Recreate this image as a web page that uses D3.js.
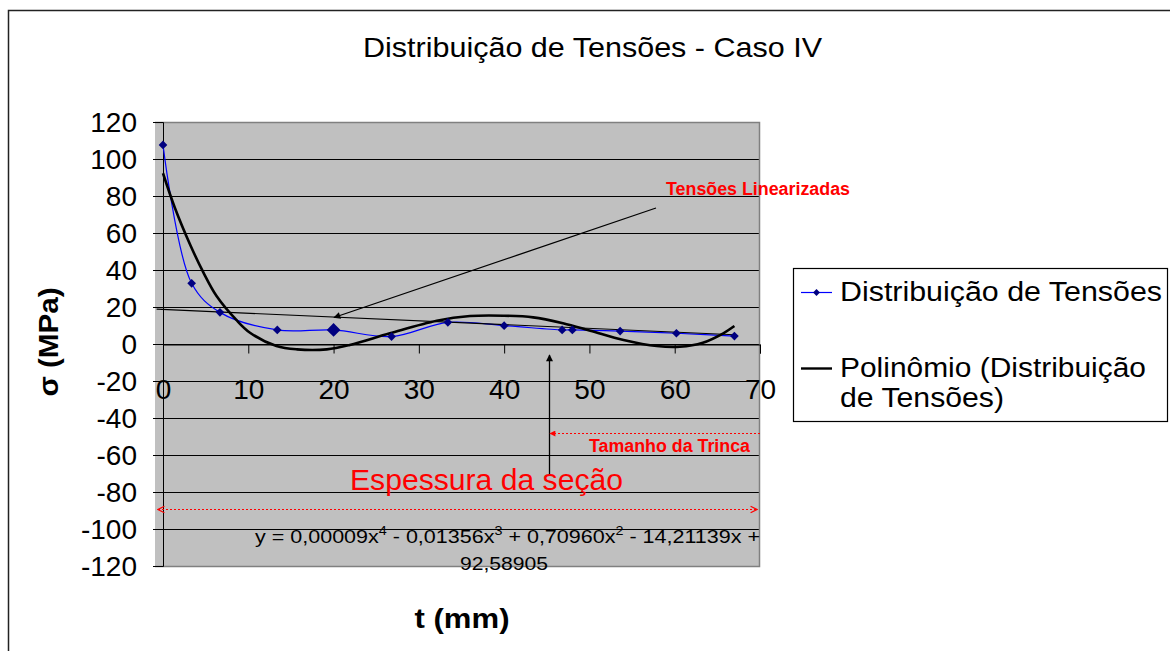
<!DOCTYPE html>
<html>
<head>
<meta charset="utf-8">
<script src="https://cdn.jsdelivr.net/npm/d3@7"></script>
<style>
  html, body { margin: 0; padding: 0; background: #fff; }
  svg { display: block; }
  text { font-family: "Liberation Sans", Arial, sans-serif; }
</style>
</head>
<body>
<svg id="chart" width="1170" height="651"></svg>
<script>
// ---------------- data ----------------
const titleText = "Distribuição de Tensões - Caso IV";
const xTicks = [0, 10, 20, 30, 40, 50, 60, 70];
const yTicks = [-120, -100, -80, -60, -40, -20, 0, 20, 40, 60, 80, 100, 120];

// Distribuição de Tensões (t in mm, sigma in MPa)
const tData     = [0, 3.36, 6.68, 13.4, 20.0, 26.8, 33.4, 40.0, 46.8, 48.0, 53.6, 60.2, 67.0];
const sigmaData = [107.6, 32.8, 17.1, 7.6, 7.6, 4.0, 11.7, 9.9, 7.6, 7.6, 7.0, 5.8, 4.3];

// Polinômio (Distribuição de Tensões) – trend curve
const trendT     = [0, 1.4, 3.2, 4.7, 6.3, 8.6, 10.2, 13.3, 15.7, 19.2, 21.9, 26.6, 32.1, 36, 39.9, 43.4, 46.9, 50.1, 54, 57.9, 60.6, 63.3, 65.7, 67];
const trendSigma = [92.3, 73.5, 53.5, 39.0, 25.8, 13, 6.1, -1.1, -2.9, -2.9, -0.5, 5.8, 12.6, 15.1, 15.3, 14.4, 11.2, 7.2, 2.2, -1.1, -1.5, 0.7, 5.8, 9.7];

// Tensões Linearizadas (straight line)
const linearT     = [-0.75, 67];
const linearSigma = [18.8, 5.0];

const legendLabels = ["Distribuição de Tensões", ["Polinômio (Distribuição", "de Tensões)"]];
const equationLines = ["y = 0,00009x^4 - 0,01356x^3 + 0,70960x^2 - 14,21139x +", "92,58905"];

// ---------------- drawing ----------------
const svg = d3.select("#chart");
const font = '"Liberation Sans", Arial, sans-serif';

// outer chart border (runs off right and bottom)
svg.append("rect").attr("x", 8.5).attr("y", 10.5).attr("width", 1200).attr("height", 700)
  .attr("fill", "#fff").attr("stroke", "#222").attr("stroke-width", 1.5);

const x = d3.scaleLinear().domain([0, 70]).range([163, 760]);
const y = d3.scaleLinear().domain([-120, 120]).range([566, 122]);
const plotLeft = 155, plotRight = 760;

// plot area
svg.append("rect").attr("x", plotLeft).attr("y", y(120)).attr("width", plotRight - plotLeft)
  .attr("height", y(-120) - y(120)).attr("fill", "#c0c0c0");

// gridlines
svg.append("g").selectAll("line").data(yTicks.filter(v => v !== 120 && v !== -120)).join("line")
  .attr("x1", plotLeft).attr("x2", plotRight)
  .attr("y1", d => Math.round(y(d)) + 0.5).attr("y2", d => Math.round(y(d)) + 0.5)
  .attr("stroke", "#000").attr("stroke-width", 1);

// plot border (top, right, bottom)
svg.append("path")
  .attr("d", `M${plotLeft},${y(120) + 0.5} H${plotRight - 0.5} V${y(-120) + 0.5} H${plotLeft}`)
  .attr("fill", "none").attr("stroke", "#808080").attr("stroke-width", 1.5);

// y axis (crosses at t = 0)
const yAxis = d3.axisLeft(y).tickValues(yTicks).tickSize(10).tickFormat(d => String(d));
const gy = svg.append("g").attr("transform", `translate(${x(0)},0)`).call(yAxis);
gy.select(".domain").attr("stroke", "#000");
gy.selectAll(".tick line").attr("stroke", "#000");
gy.selectAll(".tick text").attr("font-family", font).attr("font-size", 28).attr("fill", "#000")
  .attr("x", -26).attr("dy", "0.35em");

// x axis (at sigma = 0)
const xAxis = d3.axisBottom(x).tickValues(xTicks).tickSize(9).tickFormat(d => String(d));
const gx = svg.append("g").attr("transform", `translate(0,${Math.round(y(0)) + 0.5})`).call(xAxis);
gx.select(".domain").attr("stroke", "#000");
gx.selectAll(".tick line").attr("stroke", "#000");
gx.selectAll(".tick text").attr("font-family", font).attr("font-size", 28).attr("fill", "#000")
  .attr("y", 54).attr("dy", 0);

// blue smoothed series
const pts = tData.map((t, i) => [t, sigmaData[i]]);
const smooth = d3.line().x(d => x(d[0])).y(d => y(d[1])).curve(d3.curveCatmullRom.alpha(0.5));
svg.append("path").attr("d", smooth(pts)).attr("fill", "none").attr("stroke", "#0000ff").attr("stroke-width", 1.2);

// linear line
const lin = linearT.map((t, i) => [t, linearSigma[i]]);
svg.append("path").attr("d", d3.line().x(d => x(d[0])).y(d => y(d[1]))(lin))
  .attr("fill", "none").attr("stroke", "#000").attr("stroke-width", 1.2);

// trend polynomial curve
const trend = trendT.map((t, i) => [t, trendSigma[i]]);
svg.append("path").attr("d", smooth(trend)).attr("fill", "none").attr("stroke", "#000").attr("stroke-width", 2.6);

// markers
const diamond = d3.symbol().type(d3.symbolDiamond2);
svg.append("g").selectAll("path").data(pts).join("path")
  .attr("transform", d => `translate(${x(d[0])},${y(d[1])})`)
  .attr("d", (d, i) => diamond.size(i === 4 ? 120 : 48)())
  .attr("fill", "#000080");

// arrow markers
const defs = svg.append("defs");
defs.append("marker").attr("id", "arrBlack").attr("viewBox", "0 0 10 10").attr("refX", 9).attr("refY", 5)
  .attr("markerWidth", 9).attr("markerHeight", 7).attr("markerUnits", "userSpaceOnUse").attr("orient", "auto")
  .append("path").attr("d", "M0,0 L10,5 L0,10 Z").attr("fill", "#000");
defs.append("marker").attr("id", "arrRed").attr("viewBox", "0 0 10 10").attr("refX", 9).attr("refY", 5)
  .attr("markerWidth", 7).attr("markerHeight", 6).attr("markerUnits", "userSpaceOnUse").attr("orient", "auto")
  .append("path").attr("d", "M0,0 L10,5 L0,10 Z").attr("fill", "#ff0000");
defs.append("marker").attr("id", "chevRed").attr("viewBox", "0 0 10 10").attr("refX", 9).attr("refY", 5)
  .attr("markerWidth", 8).attr("markerHeight", 10).attr("markerUnits", "userSpaceOnUse").attr("orient", "auto-start-reverse")
  .append("path").attr("d", "M1,1 L9,5 L1,9").attr("fill", "none").attr("stroke", "#ff0000").attr("stroke-width", 1.6);

// annotation: Tensões Linearizadas arrow
svg.append("line").attr("x1", 656).attr("y1", 208).attr("x2", 334).attr("y2", 317.5)
  .attr("stroke", "#000").attr("stroke-width", 1.3).attr("marker-end", "url(#arrBlack)");
svg.append("text").attr("x", 666).attr("y", 195).attr("font-size", 17.5).attr("font-weight", "bold")
  .attr("fill", "#ff0000").attr("textLength", 184).attr("lengthAdjust", "spacingAndGlyphs").text("Tensões Linearizadas");

// vertical arrow
svg.append("line").attr("x1", 549.5).attr("y1", 476).attr("x2", 549.5).attr("y2", 355)
  .attr("stroke", "#000").attr("stroke-width", 1.3).attr("marker-end", "url(#arrBlack)");

// Tamanho da Trinca dotted arrow
svg.append("line").attr("x1", 760).attr("y1", 433.5).attr("x2", 550).attr("y2", 433.5)
  .attr("stroke", "#ff0000").attr("stroke-width", 1.2).attr("stroke-dasharray", "2,2").attr("marker-end", "url(#arrRed)");
svg.append("text").attr("x", 589).attr("y", 452).attr("font-size", 17.5).attr("font-weight", "bold")
  .attr("fill", "#ff0000").attr("textLength", 161).attr("lengthAdjust", "spacingAndGlyphs").text("Tamanho da Trinca");

// Espessura da seção
svg.append("text").attr("x", 350).attr("y", 490).attr("font-size", 30)
  .attr("fill", "#ff0000").attr("textLength", 273).attr("lengthAdjust", "spacingAndGlyphs").text("Espessura da seção");
svg.append("line").attr("x1", 158).attr("y1", 509.5).attr("x2", 757).attr("y2", 509.5)
  .attr("stroke", "#ff0000").attr("stroke-width", 1.2).attr("stroke-dasharray", "2,2")
  .attr("marker-start", "url(#chevRed)").attr("marker-end", "url(#chevRed)");

// equation (first line with superscripts)
const eq = svg.append("text").attr("x", 255).attr("y", 543).attr("font-size", 18).attr("fill", "#000")
  .attr("textLength", 505).attr("lengthAdjust", "spacingAndGlyphs");
const segs = equationLines[0].split(/\^(\d)/); // alternating: normal, sup, normal, ...
let shift = 0;
segs.forEach((s, i) => {
  const isSup = i % 2 === 1;
  const target = isSup ? -8 : 0;
  const ts = eq.append("tspan").attr("dy", target - shift).text(s);
  if (isSup) ts.attr("font-size", 12);
  shift = target;
});
svg.append("text").attr("x", 504).attr("y", 570).attr("font-size", 18).attr("text-anchor", "middle")
  .attr("textLength", 88).attr("lengthAdjust", "spacingAndGlyphs").attr("fill", "#000").text(equationLines[1]);

// title
svg.append("text").attr("x", 592.5).attr("y", 57).attr("text-anchor", "middle").attr("font-size", 28)
  .attr("textLength", 459).attr("lengthAdjust", "spacingAndGlyphs").attr("fill", "#000").text(titleText);

// axis titles
svg.append("text").attr("transform", "translate(58,342) rotate(-90)").attr("text-anchor", "middle")
  .attr("font-size", 28).attr("font-weight", "bold").attr("textLength", 109).attr("lengthAdjust", "spacingAndGlyphs")
  .attr("fill", "#000").text("σ (MPa)");
svg.append("text").attr("x", 462).attr("y", 628).attr("text-anchor", "middle")
  .attr("font-size", 28).attr("font-weight", "bold").attr("textLength", 95).attr("lengthAdjust", "spacingAndGlyphs")
  .attr("fill", "#000").text("t (mm)");

// legend
const lg = svg.append("g");
lg.append("rect").attr("x", 793.5).attr("y", 268.5).attr("width", 374).attr("height", 153)
  .attr("fill", "#fff").attr("stroke", "#000").attr("stroke-width", 1.2);
lg.append("line").attr("x1", 801).attr("x2", 832).attr("y1", 292.5).attr("y2", 292.5).attr("stroke", "#0000ff").attr("stroke-width", 1.2);
lg.append("path").attr("transform", "translate(816.5,292.5)").attr("d", d3.symbol().type(d3.symbolDiamond2).size(30)()).attr("fill", "#000080");
lg.append("text").attr("x", 840).attr("y", 301).attr("font-size", 27).attr("fill", "#000")
  .attr("textLength", 322).attr("lengthAdjust", "spacingAndGlyphs").text(legendLabels[0]);
lg.append("line").attr("x1", 801).attr("x2", 832).attr("y1", 368.5).attr("y2", 368.5).attr("stroke", "#000").attr("stroke-width", 2.4);
lg.append("text").attr("x", 840).attr("y", 377).attr("font-size", 27).attr("fill", "#000")
  .attr("textLength", 306).attr("lengthAdjust", "spacingAndGlyphs").text(legendLabels[1][0]);
lg.append("text").attr("x", 840).attr("y", 407).attr("font-size", 27).attr("fill", "#000")
  .attr("textLength", 164).attr("lengthAdjust", "spacingAndGlyphs").text(legendLabels[1][1]);
</script>
</body>
</html>
